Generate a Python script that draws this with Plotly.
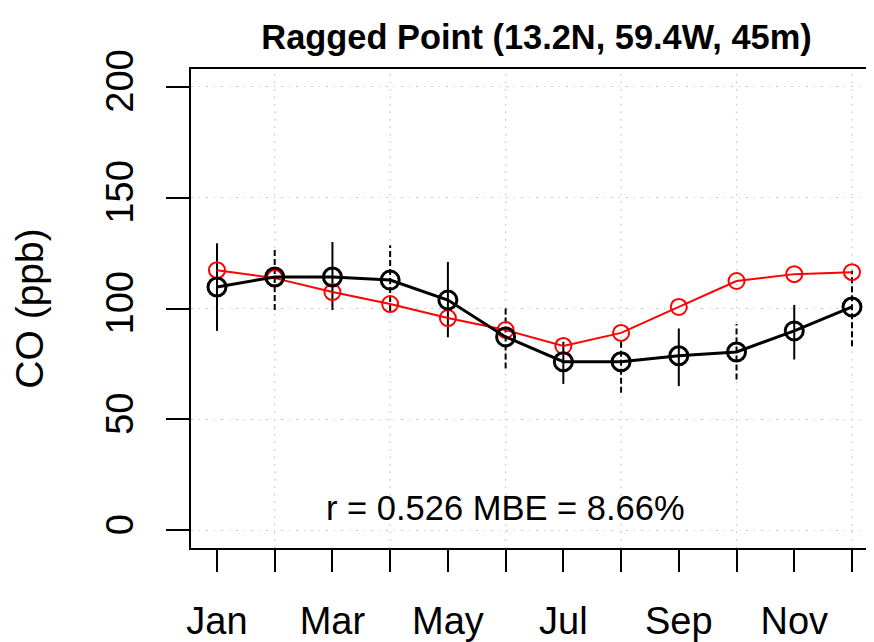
import plotly.graph_objects as go

# Monthly CO at Ragged Point: observations (black, with spread) and model (red)
months = list(range(1, 13))
month_labels = ["Jan", "", "Mar", "", "May", "", "Jul", "", "Sep", "", "Nov", ""]
obs = [109.7, 114.2, 114.2, 112.8, 103.8, 87.2, 76.0, 76.0, 78.7, 80.4, 89.9, 100.7]
obs_hi = [129.4, 127.0, 130.0, 128.5, 121.0, 101.0, 85.0, 85.0, 91.0, 93.0, 101.6, 117.0]
obs_lo = [89.9, 99.3, 99.3, 98.9, 87.0, 73.0, 66.0, 62.0, 65.0, 68.0, 77.0, 83.0]
model = [117.3, 113.7, 107.4, 102.0, 95.7, 90.3, 83.1, 89.0, 100.7, 112.4, 115.5, 116.4]
grid_months = [2, 4, 6, 8, 10, 12]
y_ticks = [0, 50, 100, 150, 200]
stats_text = "r = 0.526 MBE = 8.66%"

FONT = "Liberation Sans, Arial, Helvetica, sans-serif"
GRID = "#c8c8c8"

fig = go.Figure()

# vertical error bars (even months look dashed where grid lines cross them)
for m, lo, hi in zip(months, obs_lo, obs_hi):
    fig.add_trace(go.Scatter(
        x=[m, m], y=[lo, hi], mode="lines",
        line=dict(color="black", width=2, dash="solid" if m % 2 else "6px,3px"),
        showlegend=False, hoverinfo="skip",
    ))

# model
fig.add_trace(go.Scatter(
    x=months, y=model, mode="lines+markers",
    line=dict(color="#ff0000", width=2),
    marker=dict(symbol="circle-open", size=16, color="#ff0000", line=dict(width=2)),
    showlegend=False,
))

# observations
fig.add_trace(go.Scatter(
    x=months, y=obs, mode="lines+markers",
    line=dict(color="black", width=3),
    marker=dict(symbol="circle-open", size=18, color="black", line=dict(width=3)),
    showlegend=False,
))

for g in grid_months:
    fig.add_vline(x=g, line=dict(color=GRID, width=1.3, dash="1.5px,6px"), layer="below")

fig.add_annotation(
    x=6, y=10, xref="x", yref="y", text=stats_text, showarrow=False,
    font=dict(family=FONT, size=34.5, color="black"),
)

fig.update_layout(
    width=874, height=642,
    margin=dict(l=183, r=0, t=61, b=102),
    plot_bgcolor="white", paper_bgcolor="white",
    font=dict(family=FONT, color="black"),
    title=dict(
        text="<b>Ragged Point (13.2N, 59.4W, 45m)</b>",
        x=0.5, xref="paper", xanchor="center",
        y=1 - 29 / 642, yref="container", yanchor="middle",
        font=dict(family=FONT, size=34.4, color="black"),
    ),
    xaxis=dict(
        range=[0.55, 12.52], tickvals=months, ticktext=month_labels,
        ticks="outside", ticklen=22, tickwidth=1.5, tickcolor="black",
        ticklabelstandoff=16,
        showline=True, linecolor="black", linewidth=2, mirror=True,
        showgrid=False, zeroline=False, automargin=False,
        tickfont=dict(family=FONT, size=38, color="black"),
    ),
    yaxis=dict(
        range=[-8, 208], tickvals=y_ticks,
        ticks="outside", ticklen=23, tickwidth=1.5, tickcolor="black",
        tickangle=-90, ticklabelstandoff=18,
        showline=True, linecolor="black", linewidth=2,
        showgrid=True, gridcolor=GRID, griddash="1.5px,6px", gridwidth=1.3,
        zeroline=False, automargin=False,
        tickfont=dict(family=FONT, size=38, color="black"),
        title=dict(text="CO (ppb)", font=dict(family=FONT, size=39, color="black"), standoff=60),
    ),
)

fig.write_html("out.html")
